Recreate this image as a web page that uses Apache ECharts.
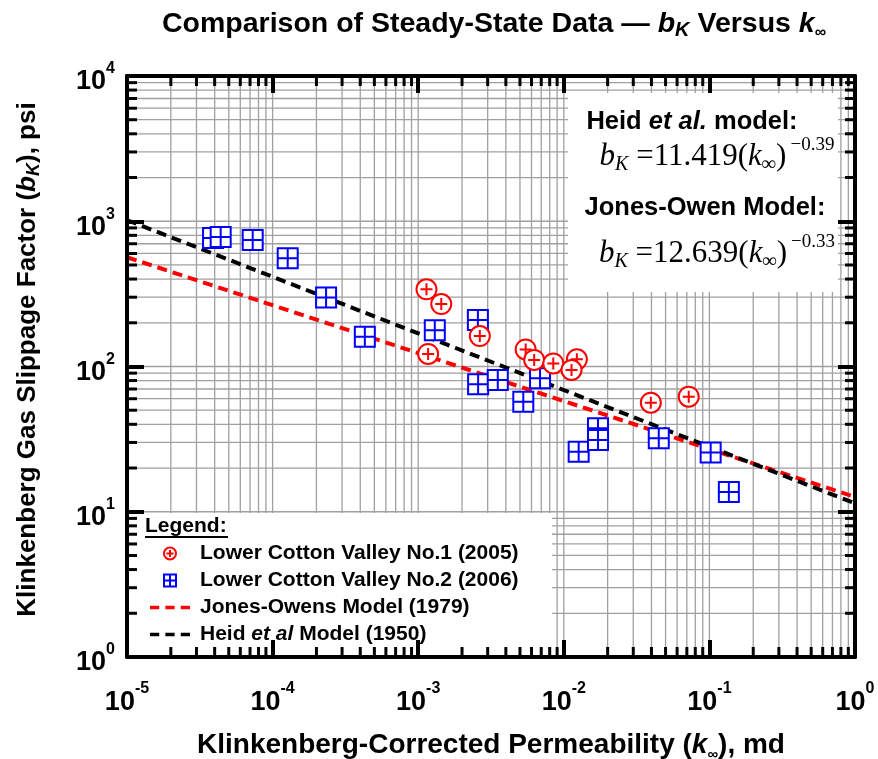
<!DOCTYPE html>
<html><head><meta charset="utf-8">
<script src="https://cdn.jsdelivr.net/npm/echarts@6/dist/echarts.min.js"></script>
<style>html,body{margin:0;padding:0;background:#fff}#c{width:878px;height:759px}</style>
</head><body><div id="c"></div>
<script>
const SANS = 'Liberation Sans';
const SERIF = 'Liberation Serif';

// tick labels (exponents of 10)
const xTickExp = ['-5', '-4', '-3', '-2', '-1', '0'];
const yTickExp = ['0', '1', '2', '3', '4'];
const xMin = 1e-5, xMax = 1, yMin = 1, yMax = 1e4;

// Lower Cotton Valley No.1 (2005): permeability k (md), slippage bK (psi)
const lcv1K = [0.00114, 0.00144, 0.00265, 0.00117, 0.00547, 0.00626, 0.00847, 0.0123, 0.0113, 0.0396, 0.0721];
const lcv1B = [340, 269, 162, 122, 131, 111, 105, 112, 94.6, 56.3, 62];

// Lower Cotton Valley No.2 (2006)
const lcv2K = [0.000039, 0.000044, 0.000073, 0.000127, 0.000233, 0.00043, 0.0013, 0.00257, 0.00258, 0.00352, 0.00527, 0.00687, 0.01265, 0.01718, 0.01718, 0.0449, 0.102, 0.136];
const lcv2B = [767, 780, 743, 556, 298, 160, 178, 209, 75.4, 80.7, 57.3, 83, 25.9, 37.5, 31.2, 32.1, 25.6, 13.7];

// model lines (end points)
const jonesK = [1e-5, 1];
const jonesB = [565, 12.64];
const heidK = [1e-5, 1];
const heidB = [1018, 11.42];

const names = ['Lower Cotton Valley No.1 (2005)', 'Lower Cotton Valley No.2 (2006)', 'Jones-Owens Model (1979)', 'Heid et al Model (1950)'];

const circleIcon = 'path://M0,10A10,10,0,1,1,20,10A10,10,0,1,1,0,10Z M4,10L16,10 M10,4L10,16';
const squareIcon = 'path://M0,0L20,0L20,20L0,20Z M10,0L10,20 M0,10L20,10';
const dashIcon = 'path://M0,0L9,0L9,3.5L0,3.5Z M15,0L24,0L24,3.5L15,3.5Z M30,0L39,0L39,3.5L30,3.5Z';

const zip = (a, b) => a.map((v, i) => [v, b[i]]);

// grid / minor tick positions
const xGrid = [], xMinor = [], yGrid = [], yMinor = [];
for (let e = -5; e < 0; e++) for (let m = 1; m <= 9; m++) {
  const v = m * Math.pow(10, e);
  if (!(e === -5 && m === 1)) xGrid.push(v);
  if (m > 1) xMinor.push(v);
}
for (let e = 0; e < 4; e++) for (let m = 1; m <= 9; m++) {
  const v = m * Math.pow(10, e);
  if (!(e === 0 && m === 1)) yGrid.push(v);
  if (m > 1) yMinor.push(v);
}

const GRIDC = '#a0a0a0';

const labRich = {
  b: { fontFamily: SANS, fontWeight: 'bold', fontSize: 27, color: '#000' },
  s: { fontFamily: SANS, fontWeight: 'bold', fontSize: 16, color: '#000', padding: [0, 0, 27, 0] }
};
const yLabRich = {
  b: { fontFamily: SANS, fontWeight: 'bold', fontSize: 27, color: '#000', padding: [12, 0, 0, 0] },
  s: { fontFamily: SANS, fontWeight: 'bold', fontSize: 16, color: '#000', padding: [0, 0, 14, 0] }
};

const axisCommon = {
  type: 'log', logBase: 10, splitLine: { show: false }, z: 10,
  axisLine: { show: true, lineStyle: { color: '#000', width: 4 } },
  axisTick: { show: true, inside: true, length: 17, lineStyle: { color: '#000', width: 4 } }
};

const option = {
  animation: false,
  backgroundColor: '#fff',
  title: {
    left: 157, top: 2,
    text: '{t|Comparison of Steady-State Data — }{i|b}{is|K}{t| Versus }{i|k}{iz|∞}',
    textStyle: {
      rich: {
        t: { fontFamily: SANS, fontWeight: 'bold', fontSize: 28.5, color: '#000' },
        i: { fontFamily: SANS, fontWeight: 'bold', fontStyle: 'italic', fontSize: 28.5, color: '#000' },
        is: { fontFamily: SANS, fontWeight: 'bold', fontStyle: 'italic', fontSize: 20, color: '#000', padding: [12, 0, 0, 0] },
        iz: { fontFamily: SANS, fontWeight: 'bold', fontSize: 16, color: '#000', padding: [18, 0, 0, 0] }
      }
    }
  },
  grid: { left: 127, right: 23, top: 76, bottom: 102, containLabel: false, outerBoundsMode: 'none' },
  xAxis: [
    Object.assign({}, axisCommon, {
      min: xMin, max: xMax, position: 'bottom',
      name: '{t|Klinkenberg-Corrected Permeability (}{i|k}{iz|∞}{t|), md}',
      nameLocation: 'middle', nameGap: 72,
      nameTextStyle: {
        rich: {
          t: { fontFamily: SANS, fontWeight: 'bold', fontSize: 28, color: '#000' },
          i: { fontFamily: SANS, fontWeight: 'bold', fontStyle: 'italic', fontSize: 28, color: '#000' },
          iz: { fontFamily: SANS, fontWeight: 'bold', fontSize: 15, color: '#000', padding: [18, 0, 0, 0] }
        }
      },
      axisLabel: {
        margin: 24,
        formatter: v => '{b|10}{s|' + xTickExp[Math.round(Math.log10(v)) + 5] + '}',
        rich: labRich
      }
    }),
    Object.assign({}, axisCommon, {
      min: xMin, max: xMax, position: 'top', axisLabel: { show: false }
    })
  ],
  yAxis: [
    Object.assign({}, axisCommon, {
      min: yMin, max: yMax, position: 'left',
      name: '{t|Klinkenberg Gas Slippage Factor (}{i|b}{is|K}{t|), psi}',
      nameLocation: 'middle', nameGap: 84, nameRotate: 90,
      nameTextStyle: {
        padding: [0, 0, 0, 14],
        rich: {
          t: { fontFamily: SANS, fontWeight: 'bold', fontSize: 26, color: '#000' },
          i: { fontFamily: SANS, fontWeight: 'bold', fontStyle: 'italic', fontSize: 26, color: '#000' },
          is: { fontFamily: SANS, fontWeight: 'bold', fontStyle: 'italic', fontSize: 18, color: '#000', padding: [12, 0, 0, 0] }
        }
      },
      axisLabel: {
        margin: 12,
        formatter: v => '{b|10}{s|' + yTickExp[Math.round(Math.log10(v))] + '}',
        rich: yLabRich
      }
    }),
    Object.assign({}, axisCommon, {
      min: yMin, max: yMax, position: 'right', axisLabel: { show: false }
    })
  ],
  legend: {
    left: 145, top: 538, orient: 'vertical', itemGap: 6,
    itemWidth: 40, itemHeight: 12, z: 20,
    formatter: name => name === names[3]
      ? '{f|Heid }{ti|et al}{t| Model (1950)}'
      : '{f|' + name + '}',
    textStyle: {
      rich: {
        f: { fontFamily: SANS, fontWeight: 'bold', fontSize: 21, color: '#000', padding: [0, 0, 0, 5] },
        t: { fontFamily: SANS, fontWeight: 'bold', fontSize: 21, color: '#000' },
        ti: { fontFamily: SANS, fontWeight: 'bold', fontStyle: 'italic', fontSize: 21, color: '#000' }
      }
    },
    data: [
      { name: names[0], icon: circleIcon },
      { name: names[1], icon: squareIcon },
      { name: names[2], icon: dashIcon, itemStyle: { color: '#ff0000', borderWidth: 0 } },
      { name: names[3], icon: dashIcon, itemStyle: { color: '#000', borderWidth: 0 } }
    ]
  },
  graphic: [
    { type: 'rect', z: 3, silent: true, shape: { x: 130, y: 513, width: 422, height: 142 }, style: { fill: '#fff' } },
    { type: 'rect', z: 3, silent: true, shape: { x: 568, y: 93, width: 270, height: 199 }, style: { fill: '#fff' } },
    { type: 'text', z: 20, x: 145, y: 526, style: { text: 'Legend:', font: 'bold 21px ' + SANS, fill: '#000', verticalAlign: 'middle' } },
    { type: 'line', z: 20, shape: { x1: 145, y1: 537, x2: 228, y2: 537 }, style: { stroke: '#000', lineWidth: 2 } },
    { type: 'text', z: 20, x: 692, y: 122, style: {
        text: '{t|Heid }{i|et al.}{t| model:}', align: 'center', verticalAlign: 'middle',
        rich: {
          t: { fontFamily: SANS, fontWeight: 'bold', fontSize: 25.5, fill: '#000' },
          i: { fontFamily: SANS, fontWeight: 'bold', fontStyle: 'italic', fontSize: 25.5, fill: '#000' }
        } } },
    { type: 'text', z: 20, x: 717, y: 157, style: {
        text: '{i|b}{sb|K}{n| =11.419(}{i|k}{sb|∞}{n|)}{sp|−0.39}', align: 'center', verticalAlign: 'middle',
        rich: eqRich() } },
    { type: 'text', z: 20, x: 705, y: 208, style: {
        text: '{t|Jones-Owen Model:}', align: 'center', verticalAlign: 'middle',
        rich: { t: { fontFamily: SANS, fontWeight: 'bold', fontSize: 25.5, fill: '#000' } } } },
    { type: 'text', z: 20, x: 717, y: 254, style: {
        text: '{i|b}{sb|K}{n| =12.639(}{i|k}{sb|∞}{n|)}{sp|−0.33}', align: 'center', verticalAlign: 'middle',
        rich: eqRich() } }
  ],
  series: [
    {
      type: 'custom', name: 'xgrid', z: 1, silent: true, xAxisIndex: 0, yAxisIndex: 0,
      data: xGrid.map(v => [v, yMin]),
      renderItem: (p, api) => {
        const v = api.value(0);
        const a = api.coord([v, yMin]), b = api.coord([v, yMax]);
        return { type: 'line', shape: { x1: a[0], y1: a[1], x2: b[0], y2: b[1] }, style: { stroke: GRIDC, lineWidth: 1.3 } };
      }
    },
    {
      type: 'custom', name: 'ygrid', z: 1, silent: true, xAxisIndex: 0, yAxisIndex: 0,
      data: yGrid.map(v => [xMin, v]),
      renderItem: (p, api) => {
        const v = api.value(1);
        const a = api.coord([xMin, v]), b = api.coord([xMax, v]);
        return { type: 'line', shape: { x1: a[0], y1: a[1], x2: b[0], y2: b[1] }, style: { stroke: GRIDC, lineWidth: 1.3 } };
      }
    },
    {
      type: 'line', name: names[2], z: 4, symbol: 'none', data: zip(jonesK, jonesB),
      lineStyle: { color: '#ff0000', width: 4, type: [10, 6] }, itemStyle: { color: '#ff0000' }
    },
    {
      type: 'line', name: names[3], z: 4, symbol: 'none', data: zip(heidK, heidB),
      lineStyle: { color: '#000', width: 4, type: [10, 6] }, itemStyle: { color: '#000' }
    },
    {
      type: 'scatter', name: names[1], z: 5, symbol: squareIcon, symbolSize: 20,
      data: zip(lcv2K, lcv2B),
      itemStyle: { color: '#fff', borderColor: '#0000ff', borderWidth: 2, opacity: 1 }
    },
    {
      type: 'scatter', name: names[0], z: 6, symbol: circleIcon, symbolSize: 20,
      data: zip(lcv1K, lcv1B),
      itemStyle: { color: '#fff', borderColor: '#ff0000', borderWidth: 2, opacity: 1 }
    },
    {
      type: 'custom', name: 'xminor', z: 8, silent: true,
      data: xMinor.map(v => [v, yMin]),
      renderItem: (p, api) => {
        const v = api.value(0);
        const a = api.coord([v, yMin]), b = api.coord([v, yMax]);
        const st = { stroke: '#000', lineWidth: 3 };
        return { type: 'group', children: [
          { type: 'line', shape: { x1: a[0], y1: a[1], x2: a[0], y2: a[1] - 10 }, style: st },
          { type: 'line', shape: { x1: b[0], y1: b[1], x2: b[0], y2: b[1] + 10 }, style: st }
        ] };
      }
    },
    {
      type: 'custom', name: 'yminor', z: 8, silent: true,
      data: yMinor.map(v => [xMin, v]),
      renderItem: (p, api) => {
        const v = api.value(1);
        const a = api.coord([xMin, v]), b = api.coord([xMax, v]);
        const st = { stroke: '#000', lineWidth: 3 };
        return { type: 'group', children: [
          { type: 'line', shape: { x1: a[0], y1: a[1], x2: a[0] + 10, y2: a[1] }, style: st },
          { type: 'line', shape: { x1: b[0], y1: b[1], x2: b[0] - 10, y2: b[1] }, style: st }
        ] };
      }
    }
  ]
};

function eqRich() {
  return {
    i: { fontFamily: SERIF, fontStyle: 'italic', fontSize: 31, fill: '#000' },
    n: { fontFamily: SERIF, fontSize: 31, fill: '#000' },
    sb: { fontFamily: SERIF, fontStyle: 'italic', fontSize: 20, fill: '#000', padding: [15, 0, 0, 0] },
    sp: { fontFamily: SERIF, fontSize: 19, fill: '#000', padding: [0, 0, 23, 4] }
  };
}

const chart = echarts.init(document.getElementById('c'), null, { renderer: 'canvas' });
chart.setOption(option);
</script>
</body></html>
